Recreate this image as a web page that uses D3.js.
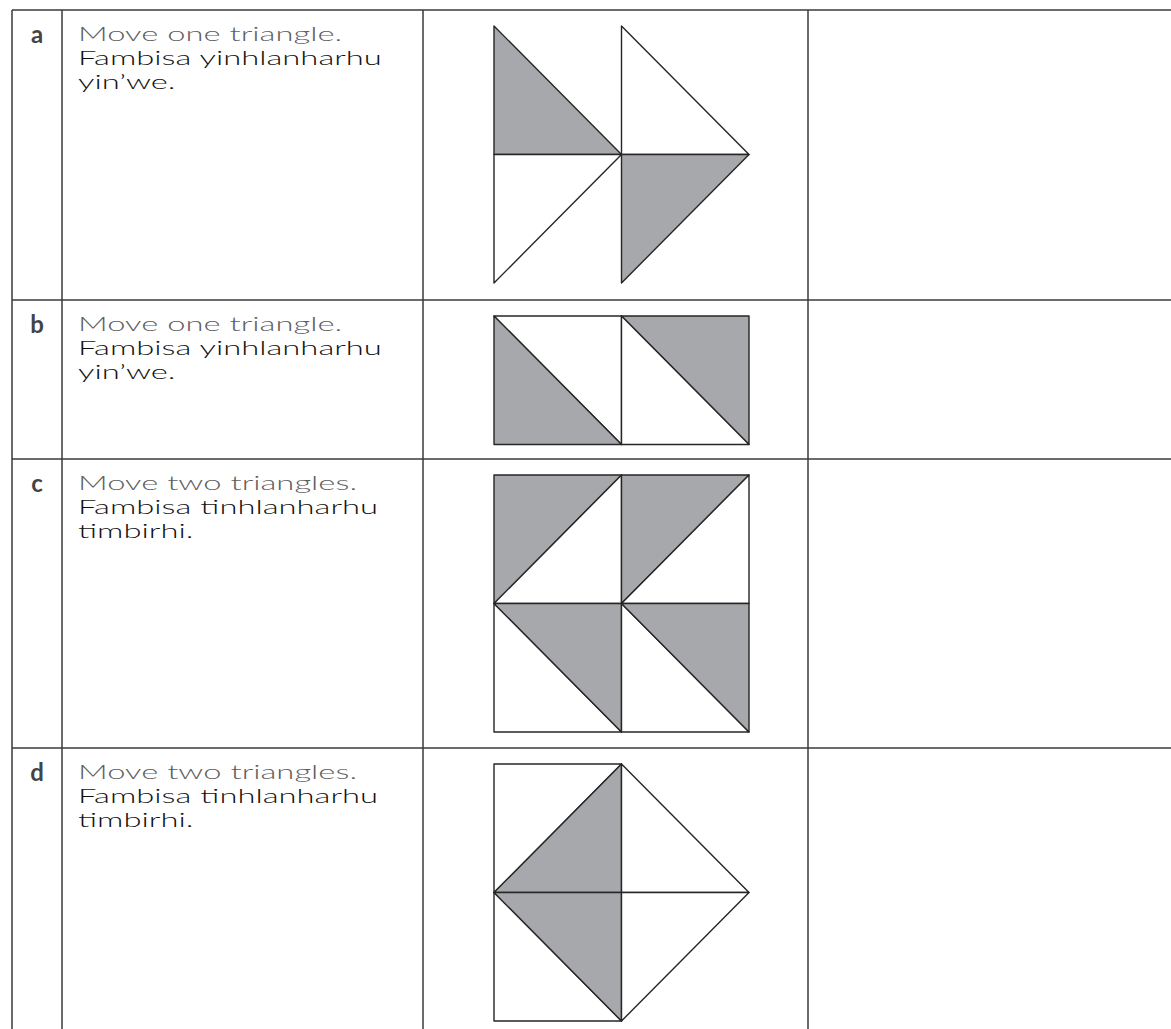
<!DOCTYPE html>
<html><head><meta charset="utf-8">
<script src="https://cdn.jsdelivr.net/npm/d3@7"></script>
<style>html,body{margin:0;padding:0;background:#fff;}svg{display:block;}</style>
</head><body>
<svg id="c" width="1171" height="1029"></svg>
<script>
const rowLabels = ["a", "b", "c", "d"];
const englishText = ["Move one triangle.", "Move one triangle.", "Move two triangles.", "Move two triangles."];
const tsongaLine1 = ["Fambisa yinhlanharhu", "Fambisa yinhlanharhu", "Fambisa tinhlanharhu", "Fambisa tinhlanharhu"];
const tsongaLine2 = ["yin’we.", "yin’we.", "timbirhi.", "timbirhi."];
const rowTops = [10, 300, 459, 748];
const colEdges = [12, 62, 423, 808];
// figures in grid units: each polygon = [fillKey, points]
const figA = [["g", [[0,0],[0,1],[1,1]]], ["w", [[0,1],[1,1],[0,2]]], ["w", [[1,0],[1,1],[2,1]]], ["g", [[1,1],[2,1],[1,2]]]];
const figB = [["w", [[0,0],[1,0],[1,1]]], ["g", [[0,0],[0,1],[1,1]]], ["g", [[1,0],[2,0],[2,1]]], ["w", [[1,0],[1,1],[2,1]]]];
const figC = [["g", [[0,0],[1,0],[0,1]]], ["w", [[1,0],[1,1],[0,1]]], ["g", [[1,0],[2,0],[1,1]]], ["w", [[2,0],[2,1],[1,1]]],
              ["w", [[0,1],[0,2],[1,2]]], ["g", [[0,1],[1,1],[1,2]]], ["w", [[1,1],[1,2],[2,2]]], ["g", [[1,1],[2,1],[2,2]]]];
const figD = [["w", [[0,0],[1,0],[0,1]]], ["g", [[1,0],[0,1],[1,1]]], ["w", [[0,1],[1,2],[0,2]]], ["g", [[0,1],[1,1],[1,2]]],
              ["w", [[1,0],[2,1],[1,1]]], ["w", [[1,1],[2,1],[1,2]]]];
const figures = [figA, figB, figC, figD];
const figRows = [2, 1, 2, 2];

const svg = d3.select("#c");
const W = 1171, H = 1029;
const fills = {g: "#a7a8ab", w: "#ffffff"};

// figures
figures.forEach((fig, i) => {
  const top = rowTops[i] + 16;
  const x = d3.scaleLinear().domain([0, 2]).range([494, 749]);
  const y = d3.scaleLinear().domain([0, figRows[i]]).range([top, top + 128.5 * figRows[i]]);
  const g = svg.append("g");
  const line = d3.line().x(d => x(d[0])).y(d => y(d[1]));
  g.selectAll("path").data(fig).join("path")
    .attr("d", d => line(d[1]) + "Z")
    .attr("fill", d => fills[d[0]])
    .attr("stroke", "#262626").attr("stroke-width", 1.4).attr("stroke-linejoin", "round");
});

// table lines
const grid = svg.append("g").attr("stroke", "#3a3a3a").attr("stroke-width", 1.5);
grid.selectAll("line.h").data(rowTops).join("line").attr("class", "h")
  .attr("x1", colEdges[0]).attr("x2", W).attr("y1", d => d).attr("y2", d => d);
grid.selectAll("line.v").data(colEdges).join("line").attr("class", "v")
  .attr("x1", d => d).attr("x2", d => d).attr("y1", rowTops[0]).attr("y2", H);

// text
const font = "Lato, 'Open Sans', sans-serif";
const fs = 17, sy = 1.12;
const textG = svg.append("g").attr("font-family", font);
const measure = textG.append("text").attr("font-size", fs).attr("font-weight", 300).text(tsongaLine1[0]);
const sx = 304 / measure.node().getComputedTextLength();
measure.remove();

rowTops.forEach((t, i) => {
  textG.append("text").attr("x", 37).attr("y", t + 33).attr("text-anchor", "middle")
    .attr("font-size", 24).attr("font-weight", 700).attr("fill", "#444").text(rowLabels[i]);
  const lines = [[englishText[i], 31, "#5e5e5e"], [tsongaLine1[i], 55, "#111"], [tsongaLine2[i], 79, "#111"]];
  lines.forEach(([s, dy, col]) => {
    textG.append("text")
      .attr("transform", `translate(78,${t + dy}) scale(${sx},${sy})`)
      .attr("font-size", fs).attr("font-weight", 300).attr("fill", col).text(s);
  });
});
</script>
</body></html>
